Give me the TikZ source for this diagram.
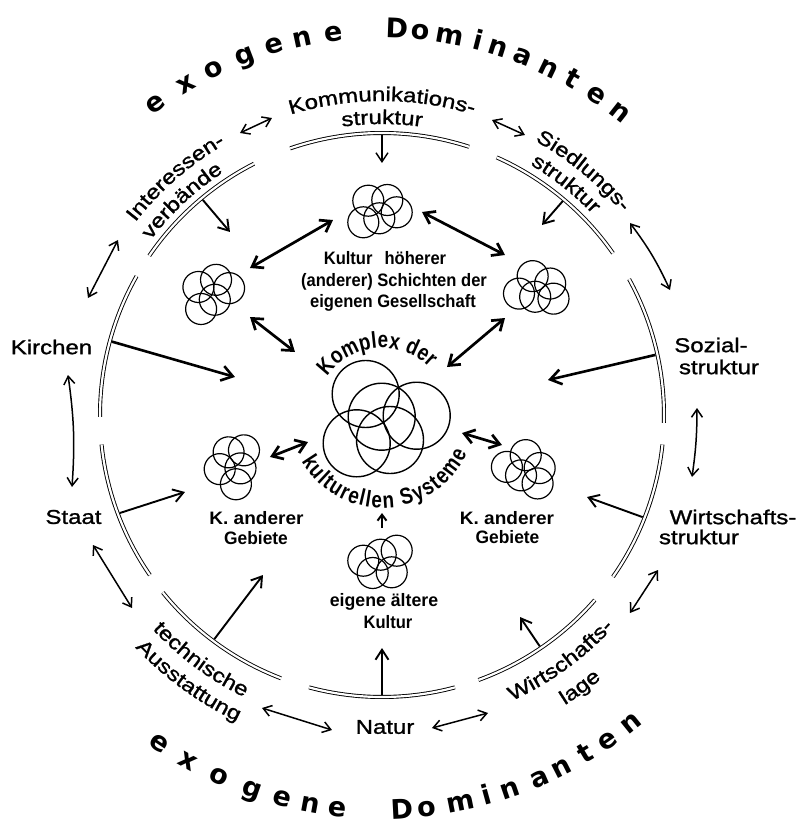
\documentclass[tikz,border=0pt]{standalone}
\usepackage{fontspec}
\setmainfont{Liberation Sans}
\newfontfamily\outerfam[FakeStretch=1.2,FakeBold=1.2]{Liberation Sans}
\newfontfamily\innerfam[FakeStretch=0.92]{Liberation Sans}
\newfontfamily\curvfam[FakeStretch=0.82]{Liberation Sans}
\newfontfamily\domfam{DejaVu Sans}
\usetikzlibrary{arrows.meta,decorations.text}
\newcommand\myofont{\outerfam\fontsize{20}{24}\selectfont}
\newcommand\myifont{\innerfam\bfseries\fontsize{18}{22}\selectfont}
\newcommand\mycfont{\curvfam\bfseries\fontsize{23}{26}\selectfont}
\newcommand\mydfont{\domfam\bfseries\fontsize{27}{32}\selectfont}
\tikzset{
  smallcl/.pic={\foreach \cx/\cy in {-10.7/10.3,8.3/11,17.7/-1.3,-15.7/-11.3,0.3/-7.3}{\draw[line width=1.2pt] (\cx,\cy) circle[radius=15.5];}},
  bigcl/.pic={\foreach \cx/\cy in {-16.3/21,-0.3/-1.7,34.7/-0.7,-25.3/-28.3,8/-25}{\draw[line width=1.4pt] (\cx,\cy) circle[radius=33.5];}}
}
\begin{document}
\begin{tikzpicture}[x=1pt,y=1pt,
  ring/.style={draw=black,line width=0.9pt,double=white,double distance=2.2pt},
  twothin/.style={line width=1.5pt,{Straight Barb[length=8pt,width=11pt]}-{Straight Barb[length=8pt,width=11pt]}},
  onethin/.style={line width=1.4pt,-{Straight Barb[length=9pt,width=12pt]}},
  onemed/.style={line width=1.9pt,-{Straight Barb[length=10pt,width=13pt]}},
  onethick/.style={line width=2.6pt,-{Straight Barb[length=11pt,width=15pt]}},
  twothick/.style={line width=2.7pt,{Straight Barb[length=10pt,width=14pt]}-{Straight Barb[length=10pt,width=14pt]}},
  olabel/.style={font=\myofont,inner sep=0pt},
  ilabel/.style={font=\myifont,inner sep=0pt},
  dletter/.style={font=\mydfont,inner sep=0pt,anchor=base}
]
\path[fill=white,use as bounding box] (-382,-410) rectangle (423,415);

% ring segments
\foreach \a/\b in {72/109, 35/66, -1.6/28.8, -35/-6, -70/-41, -105/-75, 219/249, 186/214.6, 150.5/180.4, 117/145.6}
  \draw[ring] (\a:282) arc[start angle=\a, end angle=\b, radius=282];

% clusters
\pic (clT) at (-3,204) {smallcl};
\pic[rotate=20] (clUL) at (-170,122) {smallcl};
\pic[rotate=-25] (clUR) at (156,125) {smallcl};
\pic[rotate=60] (clLL) at (-148,-50) {smallcl};
\pic[rotate=-45] (clLR) at (144,-55) {smallcl};
\pic[rotate=180] (clB) at (-1,-147) {smallcl};
\pic (clBig) at (0,0) {bigcl};

% arrows from the ring inward
\coordinate (kS) at (90:280);      \coordinate (kE) at (0,252);
\coordinate (iS) at (129.8:280);   \coordinate (iE) at (-152,183);
\coordinate (sS) at (49.8:280);    \coordinate (sE) at (160,190);
\coordinate (kiS) at (164.8:280);  \coordinate (kiE) at (-147,38);
\coordinate (soS) at (12.4:280);   \coordinate (soE) at (166,35);
\coordinate (stS) at (200.5:280);  \coordinate (stE) at (-197,-77);
\coordinate (wsS) at (-21.4:280);  \coordinate (wsE) at (205,-82);
\coordinate (teS) at (233.2:280);  \coordinate (teE) at (-119,-160);
\coordinate (naS) at (-90:280);    \coordinate (naE) at (0,-233);
\coordinate (wlS) at (-55.7:280);  \coordinate (wlE) at (138,-202);
\draw[onethin] (kS) -- (kE);
\draw[onemed] (iS) -- (iE);
\draw[onemed] (sS) -- (sE);
\draw[onethick] (kiS) -- (kiE);
\draw[onethick] (soS) -- (soE);
\draw[onemed] (stS) -- (stE);
\draw[onemed] (wsS) -- (wsE);
\draw[onemed] (teS) -- (teE);
\draw[onemed] (naS) -- (naE);
\draw[onemed] (wlS) -- (wlE);

% outer double arrows
\coordinate (b1a) at (-142,282); \coordinate (b1b) at (-110,297);
\coordinate (b2a) at (110,295);  \coordinate (b2b) at (143,280);
\coordinate (b3a) at (248,192);  \coordinate (b3b) at (288,125);
\coordinate (b4a) at (315,7);    \coordinate (b4b) at (310,-62);
\coordinate (b5a) at (276,-155); \coordinate (b5b) at (248,-198);
\coordinate (b6a) at (106,-298); \coordinate (b6b) at (50,-313);
\coordinate (b7a) at (-50,-315); \coordinate (b7b) at (-120,-293);
\coordinate (b8a) at (-250,-193);\coordinate (b8b) at (-289,-130);
\coordinate (b9a) at (-310,-72); \coordinate (b9b) at (-314,40);
\coordinate (b10a) at (-294,117);\coordinate (b10b) at (-264,175);
\draw[twothin] (b1a) -- (b1b);
\draw[twothin] (b2a) -- (b2b);
\draw[twothin] (b3a) to[bend left=6] (b3b);
\draw[twothin] (b4a) to[bend left=4] (b4b);
\draw[twothin] (b5a) -- (b5b);
\draw[twothin] (b6a) -- (b6b);
\draw[twothin] (b7a) -- (b7b);
\draw[twothin] (b8a) -- (b8b);
\draw[twothin] (b9a) to[bend right=6] (b9b);
\draw[twothin] (b10a) -- (b10b);

% inner double arrows
\coordinate (c1a) at (-132,147); \coordinate (c1b) at (-49,195);
\coordinate (c2a) at (40,203);   \coordinate (c2b) at (123,160);
\coordinate (c3a) at (-132,98);  \coordinate (c3b) at (-87,63);
\coordinate (c4a) at (123,97);   \coordinate (c4b) at (65,48);
\coordinate (c5a) at (-112,-42); \coordinate (c5b) at (-74,-27);
\coordinate (c6a) at (80,-18);   \coordinate (c6b) at (120,-30);
\coordinate (c7a) at (0,-113);   \coordinate (c7b) at (0,-98);
\draw[twothick] (c1a) -- (c1b);
\draw[twothick] (c2a) -- (c2b);
\draw[twothick] (c3a) -- (c3b);
\draw[twothick] (c4a) -- (c4b);
\draw[twothick] (c5a) -- (c5b);
\draw[twothick] (c6a) -- (c6b);
\draw[line width=2pt,-{Straight Barb[length=6pt,width=9pt]}] (c7a) -- (c7b);

% curved outer labels
\path[decorate,decoration={text along path,text align=center,text={|\myofont|Kommunikations-}}] (130:314) arc[start angle=130,end angle=50,radius=314];
\path[decorate,decoration={text along path,text align=center,text={|\myofont|struktur}}] (110:291) arc[start angle=110,end angle=70,radius=291];
\path[decorate,decoration={text along path,text align=center,text={|\myofont|Siedlungs-}}] (75:314) arc[start angle=75,end angle=26,radius=314];
\path[decorate,decoration={text along path,text align=center,text={|\myofont|struktur}}] (76:291) arc[start angle=76,end angle=27,radius=291];
\path[decorate,decoration={text along path,text align=center,text={|\myofont|Interessen-}}] (156:313) arc[start angle=156,end angle=106,radius=313];
\path[decorate,decoration={text along path,text align=center,text={|\myofont|verbände}}] (158:290) arc[start angle=158,end angle=108,radius=290];
\path[decorate,decoration={text along path,text align=center,text={|\myofont|technische}}] (208:314) arc[start angle=208,end angle=259,radius=314];
\path[decorate,decoration={text along path,text align=center,text={|\myofont|Ausstattung}}] (209:339) arc[start angle=209,end angle=259,radius=339];
\path[decorate,decoration={text along path,text align=center,text={|\myofont|Wirtschafts-}}] (281:314) arc[start angle=281,end angle=331,radius=314];
\path[decorate,decoration={text along path,text align=center,text={|\myofont|lage}}] (281:343) arc[start angle=281,end angle=331,radius=343];

% straight outer labels
\node[olabel] (kirchen) at (-330.5,68) {Kirchen};
\node[olabel] (staat) at (-308.5,-102) {Staat};
\node[olabel] (sozial1) at (329,70) {Sozial-};
\node[olabel] (sozial2) at (337,48) {struktur};
\node[olabel] (wirt1) at (351,-102) {Wirtschafts-};
\node[olabel] (wirt2) at (317,-122) {struktur};
\node[olabel] (natur) at (3,-312) {Natur};

% inner labels
\node[ilabel] (kul1) at (3,157) {Kultur\hspace{12pt}höherer};
\node[ilabel] (kul2) at (12,133) {(anderer) Schichten der};
\node[ilabel] (kul3) at (11,112) {eigenen Gesellschaft};
\node[ilabel] (kal1) at (-125.5,-103) {\scalebox{1.15}[1]{K. anderer}};
\node[ilabel] (kal2) at (-126,-123) {\scalebox{1.05}[1]{Gebiete}};
\node[ilabel] (kar1) at (125,-103) {\scalebox{1.15}[1]{K. anderer}};
\node[ilabel] (kar2) at (125.5,-122) {\scalebox{1.05}[1]{Gebiete}};
\node[ilabel] (eig1) at (2,-187) {\scalebox{1.07}[1]{eigene ältere}};
\node[ilabel] (eig2) at (6,-207) {Kultur};
\path[decorate,decoration={text along path,text align=fit to path,text={|\mycfont|Komplex der}}] (145:67) arc[start angle=145,end angle=45,radius=67];
\path[decorate,decoration={text along path,text align=fit to path,text={|\mycfont|kulturellen Systeme}}] (210:93) arc[start angle=210,end angle=336,radius=93];

% exogene Dominanten (top and bottom)
\foreach \l/\a [count=\i] in {e/126,x/120.7,o/116,g/110.9,e/106.3,n/102,e/97.3,D/87.8,o/84.3,m/79.8,i/75.6,n/72.4,a/68.6,n/64.3,t/60.5,e/56.1,n/51.8}
  \node[dletter,rotate=\a-90] (dt\i) at (\a:377) {\l};
\foreach \l/\a [count=\i] in {e/235.9,x/240.7,o/245.7,g/250.8,e/255.5,n/259.6,e/263.5,D/272.9,o/276.5,m/281.4,i/285.4,n/288.9,a/293.4,n/297,t/301,e/304.7,n/308.9}
  \node[dletter,rotate=\a+90] (db\i) at (\a:404) {\l};
\end{tikzpicture}
\end{document}
